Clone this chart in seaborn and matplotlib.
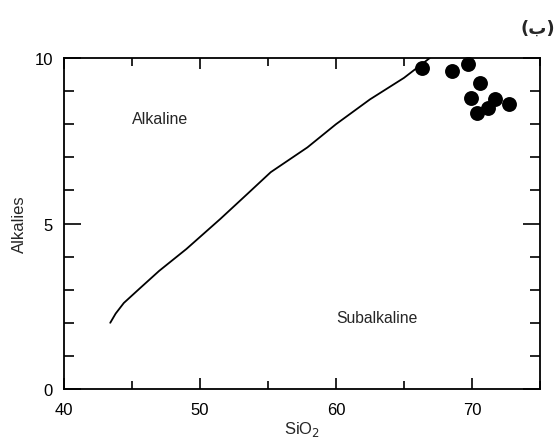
import matplotlib
matplotlib.use("Agg")
import matplotlib.pyplot as plt
from matplotlib.ticker import MultipleLocator
import seaborn as sns
import pandas as pd

# Data
curve_sio2 = [43.4, 43.8, 44.4, 45.6, 47.0, 49.0, 51.5, 53.5, 55.2, 57.9, 60.0, 62.5, 65.0, 66.9]
curve_alk = [2.0, 2.28, 2.6, 3.05, 3.57, 4.23, 5.14, 5.9, 6.55, 7.3, 8.0, 8.75, 9.4, 10.0]
sample_sio2 = [66.35, 68.55, 69.7, 70.6, 69.9, 70.35, 71.2, 71.7, 72.7]
sample_alk = [9.69, 9.61, 9.82, 9.24, 8.78, 8.35, 8.48, 8.76, 8.6]
x_ticks = [40, 50, 60, 70]
y_ticks = [0, 5, 10]

sns.set_style("ticks")
plt.rcParams['font.family'] = ['Liberation Sans', 'DejaVu Sans']

fig = plt.figure(figsize=(5.58, 4.39), dpi=100)
ax = fig.add_axes([0.1147, 0.1116, 0.8530, 0.7540])

curve = pd.DataFrame({"x": curve_sio2, "y": curve_alk})
pts = pd.DataFrame({"x": sample_sio2, "y": sample_alk})

sns.lineplot(data=curve, x="x", y="y", sort=False, color="black", linewidth=1.3, ax=ax)
sns.scatterplot(data=pts, x="x", y="y", s=115, color="black", edgecolor="black",
                linewidth=0, ax=ax, zorder=3, clip_on=False)

ax.set_xlim(40, 75)
ax.set_ylim(0, 10)
ax.set_xticks(x_ticks)
ax.set_yticks(y_ticks)
ax.xaxis.set_minor_locator(MultipleLocator(5))
ax.yaxis.set_minor_locator(MultipleLocator(1))
ax.tick_params(which="both", direction="in", top=True, right=True, colors="black",
               labelsize=12, width=1.2)
ax.tick_params(axis="x", which="major", length=8, pad=9)
ax.tick_params(axis="x", which="minor", length=6)
ax.tick_params(axis="y", which="major", length=12, pad=8)
ax.tick_params(axis="y", which="minor", length=7)
for sp in ax.spines.values():
    sp.set_linewidth(1.3)
    sp.set_color("black")

ax.set_xlabel("SiO$_2$", fontsize=12, labelpad=2)
ax.set_ylabel("Alkalies", fontsize=12, labelpad=5)

ax.text(47.1, 8.16, "Alkaline", fontsize=11.5, ha="center", va="center")
ax.text(63.0, 2.17, "Subalkaline", fontsize=11.3, ha="center", va="center")
fig.text(0.995, 0.935, "(ب)", fontsize=13, ha="right", va="center",
         family=["DejaVu Sans"], fontweight="bold")

fig.savefig("out.png", dpi=100)
